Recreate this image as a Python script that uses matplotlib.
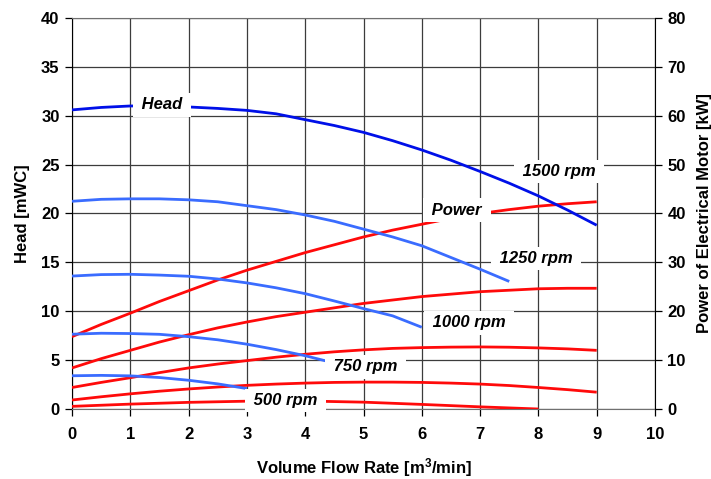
import matplotlib
matplotlib.use('Agg')
import matplotlib.pyplot as plt

plt.rcParams['font.family'] = ['Liberation Sans', 'DejaVu Sans']
plt.rcParams['font.weight'] = 'bold'
plt.rcParams['mathtext.fontset'] = 'custom'
plt.rcParams['mathtext.rm'] = 'Liberation Sans:bold'
plt.rcParams['mathtext.bf'] = 'Liberation Sans:bold'
plt.rcParams['mathtext.it'] = 'Liberation Sans:bold:italic'

# ---------------- data ----------------
# Head curves [mWC] vs flow [m3/min]
q_h1500 = [0, 0.5, 1, 1.5, 2, 2.5, 3, 3.5, 4, 4.5, 5, 5.5, 6, 6.5, 7, 7.5, 8, 8.5, 9]
h1500 = [30.6, 30.85, 31.0, 31.0, 30.9, 30.75, 30.55, 30.2, 29.6, 29.0, 28.3, 27.45,
         26.5, 25.45, 24.3, 23.1, 21.8, 20.35, 18.8]

q_h1250 = [0, 0.5, 1, 1.5, 2, 2.5, 3, 3.5, 4, 4.5, 5, 5.5, 6, 6.5, 7, 7.5]
h1250 = [21.25, 21.45, 21.5, 21.5, 21.4, 21.2, 20.8, 20.4, 19.85, 19.2, 18.4, 17.6,
         16.7, 15.5, 14.3, 13.05]

q_h1000 = [0, 0.5, 1, 1.5, 2, 2.5, 3, 3.5, 4, 4.5, 5, 5.5, 6]
h1000 = [13.6, 13.75, 13.78, 13.7, 13.58, 13.3, 12.9, 12.4, 11.8, 11.05, 10.27, 9.53, 8.36]

q_h750 = [0, 0.5, 1, 1.5, 2, 2.5, 3, 3.5, 4, 4.5]
h750 = [7.65, 7.75, 7.72, 7.64, 7.4, 7.08, 6.63, 6.08, 5.45, 4.7]

q_h500 = [0, 0.5, 1, 1.5, 2, 2.5, 3]
h500 = [3.4, 3.44, 3.39, 3.22, 2.94, 2.57, 2.09]

# Power curves [kW] vs flow [m3/min]
q_p = [0, 0.5, 1, 1.5, 2, 2.5, 3, 3.5, 4, 4.5, 5, 5.5, 6, 6.5, 7, 7.5, 8, 8.5, 9]
p1500 = [14.8, 17.3, 19.6, 22.0, 24.2, 26.4, 28.4, 30.2, 32.0, 33.6, 35.2, 36.6,
         37.8, 39.0, 40.0, 40.8, 41.5, 42.0, 42.4]
p1250 = [8.4, 10.3, 12.0, 13.7, 15.2, 16.6, 17.8, 18.9, 19.8, 20.7, 21.6, 22.3,
         23.0, 23.5, 24.0, 24.3, 24.6, 24.7, 24.7]
p1000 = [4.4, 5.44, 6.4, 7.44, 8.4, 9.2, 9.9, 10.6, 11.2, 11.7, 12.1, 12.4,
         12.56, 12.66, 12.7, 12.64, 12.5, 12.3, 12.0]
p750 = [1.84, 2.5, 3.1, 3.64, 4.1, 4.5, 4.84, 5.1, 5.3, 5.44, 5.5, 5.5,
        5.44, 5.3, 5.1, 4.8, 4.4, 3.96, 3.44]
q_p500 = [0, 1, 2, 3, 4, 5, 6, 7, 8]
p500 = [0.54, 1.0, 1.36, 1.6, 1.64, 1.4, 0.94, 0.44, 0.0]

x_ticks = list(range(0, 11))
head_ticks = list(range(0, 41, 5))
power_ticks = list(range(0, 81, 10))

# ---------------- figure ----------------
fig = plt.figure(figsize=(7.11, 4.79), dpi=100)
ax = fig.add_axes([72 / 711, 70 / 479, 583 / 711, 391 / 479])
ax2 = ax.twinx()

ax.set_xlim(0, 10)
ax.set_ylim(0, 40)
ax2.set_ylim(0, 80)
ax.set_xticks(x_ticks)
ax.set_yticks(head_ticks)
ax2.set_yticks(power_ticks)

ax.grid(True, color='#3c3c3c', lw=0.9)
ax.set_axisbelow(True)

for s in ['top', 'bottom']:
    ax.spines[s].set_color('#707070')
    ax2.spines[s].set_visible(False)
ax.spines['left'].set_color('black')
ax2.spines['right'].set_color('black')
ax.spines['right'].set_visible(False)
ax2.spines['left'].set_visible(False)

ax.tick_params(axis='both', direction='out', length=5, width=0.9, labelsize=12, pad=4)
ax.tick_params(axis='x', pad=8)
ax2.tick_params(axis='y', direction='out', length=5, width=0.9, labelsize=12, pad=4)
for lab in ax.get_xticklabels() + ax.get_yticklabels() + ax2.get_yticklabels():
    lab.set_fontweight('bold')

dark_blue = '#0010E8'
light_blue = '#3A6CFF'
red = '#FF0A0A'
lw = 2.0

# power curves (red) drawn on the kW scale of the right axis
for q, p in [(q_p, p1500), (q_p, p1250), (q_p, p1000), (q_p, p750), (q_p500, p500)]:
    ax.plot(q, p, color=red, lw=lw, transform=ax2.transData, zorder=3,
            solid_capstyle='butt')

# head curves (blue)
ax.plot(q_h1500, h1500, color=dark_blue, lw=lw, zorder=4, solid_capstyle='butt')
for q, h in [(q_h1250, h1250), (q_h1000, h1000), (q_h750, h750), (q_h500, h500)]:
    ax.plot(q, h, color=light_blue, lw=lw, zorder=4, solid_capstyle='butt')

# curve labels
labels = [
    (' Head ', 1.55, 31.1),
    (' 1500 rpm ', 8.35, 24.3),
    (' Power ', 6.6, 20.35),
    (' 1250 rpm ', 7.96, 15.4),
    (' 1000 rpm ', 6.81, 8.8),
    (' 750 rpm ', 5.03, 4.3),
    (' 500 rpm ', 3.66, 0.9),
]
for txt, x, y in labels:
    ax.text(x, y, txt, ha='center', va='center', fontsize=12, fontweight='bold',
            style='italic', zorder=6,
            bbox=dict(boxstyle='square,pad=0.25', fc='white', ec='none'))

ax.set_xlabel('Volume Flow Rate [m$^3$/min]', fontsize=12, fontweight='bold', labelpad=10)
ax.set_ylabel('Head [mWC]', fontsize=12, fontweight='bold', labelpad=8)
ax2.set_ylabel('Power of Electrical Motor [kW]', fontsize=12, fontweight='bold', labelpad=8)

fig.savefig('out.png', dpi=100)
